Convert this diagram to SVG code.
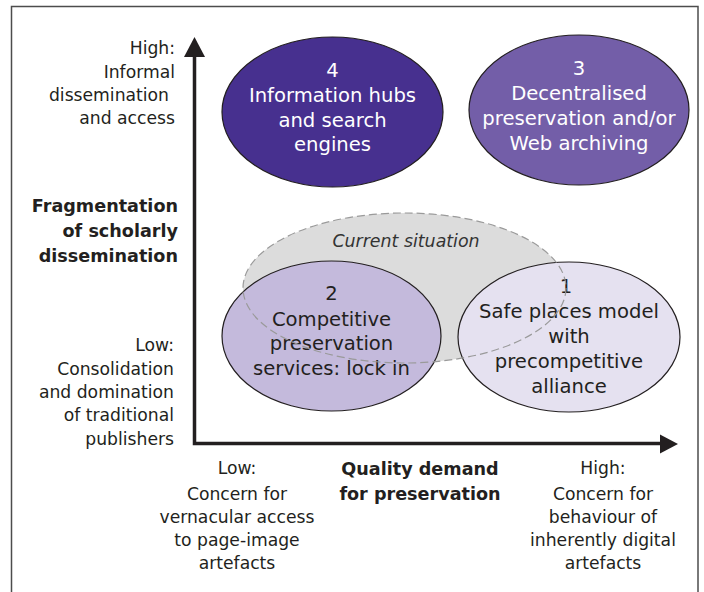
<svg xmlns="http://www.w3.org/2000/svg" width="704" height="592" viewBox="0 0 704 592">
<style>
  text { font-family: "DejaVu Sans", "Open Sans", sans-serif; fill: #231f20; }
  .lab { font-size: 17.2px; }
  .bold { font-size: 17.6px; font-weight: bold; }
  .node { font-size: 19.6px; text-anchor: middle; }
  .w { fill: #ffffff; }
  .ell { stroke: #231f20; stroke-width: 1.2; }
  .axis { stroke: #231f20; stroke-width: 3.5; fill: none; }
  .end { text-anchor: end; }
  .mid { text-anchor: middle; }
</style>
<rect width="704" height="592" fill="#ffffff"/>
<path d="M11.5 600 V6.5 H698 V600" fill="none" stroke="#4d4d4d" stroke-width="1.5"/>

<g id="y-axis-labels">
  <text class="lab end" x="175" y="54">High:</text>
  <text class="lab end" x="175" y="78">Informal</text>
  <text class="lab end" x="169" y="101">dissemination</text>
  <text class="lab end" x="175" y="124">and access</text>
  <text class="bold end" x="178" y="212">Fragmentation</text>
  <text class="bold end" x="178" y="237">of scholarly</text>
  <text class="bold end" x="178" y="262">dissemination</text>
  <text class="lab end" x="174" y="351">Low:</text>
  <text class="lab end" x="174" y="375">Consolidation</text>
  <text class="lab end" x="174" y="398">and domination</text>
  <text class="lab end" x="174" y="421">of traditional</text>
  <text class="lab end" x="174" y="445">publishers</text>
</g>

<g id="x-axis-labels">
  <text class="lab mid" x="237" y="474">Low:</text>
  <text class="lab mid" x="237" y="500">Concern for</text>
  <text class="lab mid" x="237" y="523">vernacular access</text>
  <text class="lab mid" x="237" y="546">to page-image</text>
  <text class="lab mid" x="237" y="569">artefacts</text>
  <text class="bold mid" x="420" y="475">Quality demand</text>
  <text class="bold mid" x="420" y="500">for preservation</text>
  <text class="lab mid" x="603" y="474">High:</text>
  <text class="lab mid" x="603" y="500">Concern for</text>
  <text class="lab mid" x="603" y="523">behaviour of</text>
  <text class="lab mid" x="603" y="546">inherently digital</text>
  <text class="lab mid" x="603" y="569">artefacts</text>
</g>

<g id="current-situation-fill">
  <ellipse cx="404.5" cy="288" rx="161.5" ry="75" fill="#dcdcdc"/>
</g>

<g id="node4">
  <ellipse class="ell" cx="332.5" cy="112" rx="110.5" ry="75" fill="#47308f"/>
  <text class="node w" x="332.5" y="77">4</text>
  <text class="node w" x="332.5" y="102">Information hubs</text>
  <text class="node w" x="332.5" y="127">and search</text>
  <text class="node w" x="332.5" y="151">engines</text>
</g>

<g id="node3">
  <ellipse class="ell" cx="579" cy="110" rx="110" ry="75" fill="#735ea8"/>
  <text class="node w" x="579" y="75">3</text>
  <text class="node w" x="579" y="100">Decentralised</text>
  <text class="node w" x="579" y="125">preservation and/or</text>
  <text class="node w" x="579" y="150">Web archiving</text>
</g>

<g id="node2">
  <ellipse class="ell" cx="331.5" cy="336" rx="109.5" ry="75" fill="#c4badc"/>
  <text class="node" x="331.5" y="300">2</text>
  <text class="node" x="331.5" y="326">Competitive</text>
  <text class="node" x="331.5" y="350">preservation</text>
  <text class="node" x="331.5" y="375">services: lock in</text>
</g>

<g id="node1">
  <ellipse class="ell" cx="569" cy="337" rx="111" ry="75" fill="#e5e1f0"/>
  <text class="node" x="566" y="293" text-anchor="start">1</text>
  <text class="node" x="569" y="318">Safe places model</text>
  <text class="node" x="569" y="343">with</text>
  <text class="node" x="569" y="368">precompetitive</text>
  <text class="node" x="569" y="393">alliance</text>
</g>

<g id="current-situation">
  <ellipse cx="404.5" cy="288" rx="161.5" ry="75" fill="none" stroke="#9a9a9a" stroke-width="1.2" stroke-dasharray="8 4"/>
  <text x="406" y="247" text-anchor="middle" font-style="italic" font-size="17.4px" style="fill:#333333">Current situation</text>
</g>

<g id="connectors">
  <path class="axis" d="M194.5 52 V443.5 H664"/>
  <polygon points="194.5,37 184,57 205,57" fill="#231f20"/>
  <polygon points="678,444 660,434.5 660,453.5" fill="#231f20"/>
</g>
</svg>
